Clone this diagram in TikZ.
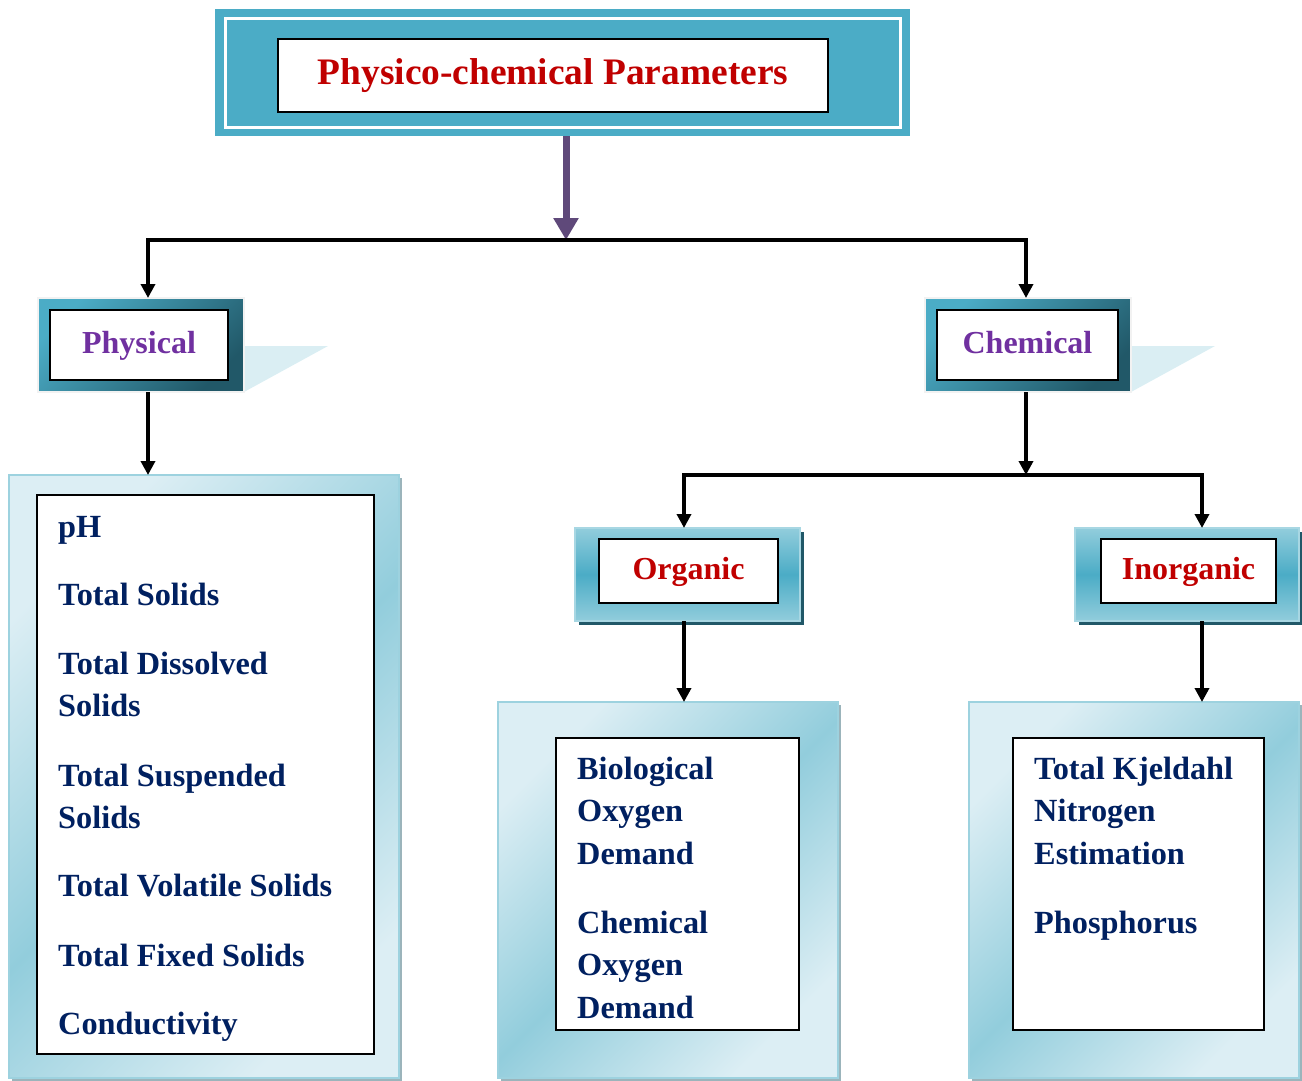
\documentclass[tikz,border=0pt]{standalone}
\usepackage{fontspec}
\setmainfont{Liberation Serif}
\usetikzlibrary{arrows.meta}
\definecolor{tealA}{HTML}{4BACC6}
\definecolor{tealD}{HTML}{215868}
\definecolor{tealL}{HTML}{92CDDC}
\definecolor{paleA}{HTML}{DCEEF4}
\definecolor{triC}{HTML}{DAEEF3}
\definecolor{redT}{HTML}{C00000}
\definecolor{purT}{HTML}{7030A0}
\definecolor{navyT}{HTML}{002060}
\definecolor{arrP}{HTML}{5F497A}
\begin{document}
\begin{tikzpicture}[x=1pt,y=-1pt,
  whitebox/.style={draw=black, line width=2pt, fill=white, inner sep=0pt, outer sep=0pt},
  plain/.style={inner sep=0pt, outer sep=0pt},
  catbox/.style={plain, draw=black!5, line width=2pt, top color=tealA, bottom color=tealD, shading angle=45},
  subbox/.style={plain, draw=tealL!80!white, line width=1.5pt, top color=tealL, bottom color=tealL, middle color=tealA},
  bigbox/.style={plain, draw=tealL!90!white, line width=1.5pt, top color=paleA, bottom color=paleA, middle color=tealL, shading angle=45},
  conn/.style={line width=4pt, -{Triangle[width=14pt,length=14pt]}},
  bar/.style={line width=4pt, line cap=rect},
  headfont/.style={font=\fontsize{32}{38}\selectfont\bfseries, text height=23pt, text depth=7pt},
  listtext/.style={anchor=base west, inner sep=0pt, font=\fontsize{32.3}{38}\selectfont\bfseries, text=navyT}
]
\useasboundingbox (0,0) rectangle (1302,1080);

% ---------- title ----------
\node[plain, fill=tealA, minimum width=695pt, minimum height=127pt] (titleO) at (562.5,72.5) {};
\draw[white, line width=3pt] (225,18) rectangle (900,127);
\node[whitebox, minimum width=550pt, minimum height=73pt, font=\fontsize{37.4}{42}\selectfont\bfseries, text height=26pt, text depth=8pt, text=redT] (title) at (553,75.5) {Physico-chemical Parameters};

% ---------- junction coordinates ----------
\coordinate (jm) at (566,240);
\coordinate (jl) at (148,240);
\coordinate (jr) at (1026,240);
\coordinate (kl) at (684,475);
\coordinate (kr) at (1202,475);
\coordinate (km) at (1026,475);

% ---------- Physical / Chemical ----------
\fill[triC] (244,346) -- (328,346) -- (244,392) -- cycle;
\fill[triC] (1131,346) -- (1215,346) -- (1131,392) -- cycle;
\node[catbox, minimum width=206pt, minimum height=94pt] (physO) at (141,345) {};
\node[whitebox, minimum width=178pt, minimum height=70pt, headfont, text=purT] (phys) at (139,345) {Physical};
\node[catbox, minimum width=206pt, minimum height=94pt] (chemO) at (1028,345) {};
\node[whitebox, minimum width=181pt, minimum height=70pt, headfont, text=purT] (chem) at (1027.5,345) {Chemical};

% ---------- Organic / Inorganic ----------
\fill[tealD] (579,532) rectangle (804,625);
\node[subbox, minimum width=225pt, minimum height=93pt] (orgO) at (687.5,574.5) {};
\node[whitebox, minimum width=179pt, minimum height=64pt, headfont, text=redT] (org) at (688.5,571) {Organic};
\fill[tealD] (1079,532) rectangle (1303,625);
\node[subbox, minimum width=224pt, minimum height=93pt] (inorgO) at (1187,574.5) {};
\node[whitebox, minimum width=175pt, minimum height=64pt, headfont, text=redT] (inorg) at (1188.5,571) {Inorganic};

% ---------- list boxes ----------
\fill[tealD!45!white] (12,478) rectangle (402,1081);
\node[bigbox, minimum width=390pt, minimum height=603pt] (physL) at (204,776.5) {};
\node[whitebox, minimum width=337pt, minimum height=559pt] (physI) at (205.5,774.5) {};

\fill[tealD!45!white] (501,705) rectangle (841,1081);
\node[bigbox, minimum width=340pt, minimum height=376pt] (orgL) at (668,890) {};
\node[whitebox, minimum width=243pt, minimum height=292pt] (orgI) at (677.5,884) {};

\fill[tealD!45!white] (972,705) rectangle (1302,1081);
\node[bigbox, minimum width=330pt, minimum height=376pt] (inorgL) at (1134,890) {};
\node[whitebox, minimum width=251pt, minimum height=292pt] (inorgI) at (1138.5,884) {};

% ---------- list texts ----------
\node[listtext] (t1) at (58,537) {pH};
\node[listtext] (t2) at (58,605) {Total Solids};
\node[listtext] (t3) at (58,674) {Total Dissolved};
\node[listtext] (t4) at (58,716) {Solids};
\node[listtext] (t5) at (58,786) {Total Suspended};
\node[listtext] (t6) at (58,828) {Solids};
\node[listtext] (t7) at (58,896) {Total Volatile Solids};
\node[listtext] (t8) at (58,966) {Total Fixed Solids};
\node[listtext] (t9) at (58,1034) {Conductivity};

\node[listtext] (o1) at (577,779) {Biological};
\node[listtext] (o2) at (577,821) {Oxygen};
\node[listtext] (o3) at (577,864) {Demand};
\node[listtext] (o4) at (577,933) {Chemical};
\node[listtext] (o5) at (577,975) {Oxygen};
\node[listtext] (o6) at (577,1018) {Demand};

\node[listtext] (i1) at (1034,779) {Total Kjeldahl};
\node[listtext] (i2) at (1034,821) {Nitrogen};
\node[listtext] (i3) at (1034,864) {Estimation};
\node[listtext] (i4) at (1034,933) {Phosphorus};

% ---------- connectors ----------
\draw[arrP, line width=7pt, -{Triangle[width=24pt,length=22pt]}] (titleO.south -| jm) -- (jm);
\draw[bar] (jl) -- (jr);
\draw[conn] (jl) -- (jl |- physO.north);
\draw[conn] (jr) -- (jr |- chemO.north);
\draw[conn] (physO.south -| jl) -- (jl |- physL.north);
\draw[conn] (chemO.south -| km) -- (km);
\draw[bar] (kl) -- (kr);
\draw[conn] (kl) -- (kl |- orgO.north);
\draw[conn] (kr) -- (kr |- inorgO.north);
\draw[conn] (orgO.south -| kl) -- (kl |- orgL.north);
\draw[conn] (inorgO.south -| kr) -- (kr |- inorgL.north);
\end{tikzpicture}
\end{document}
